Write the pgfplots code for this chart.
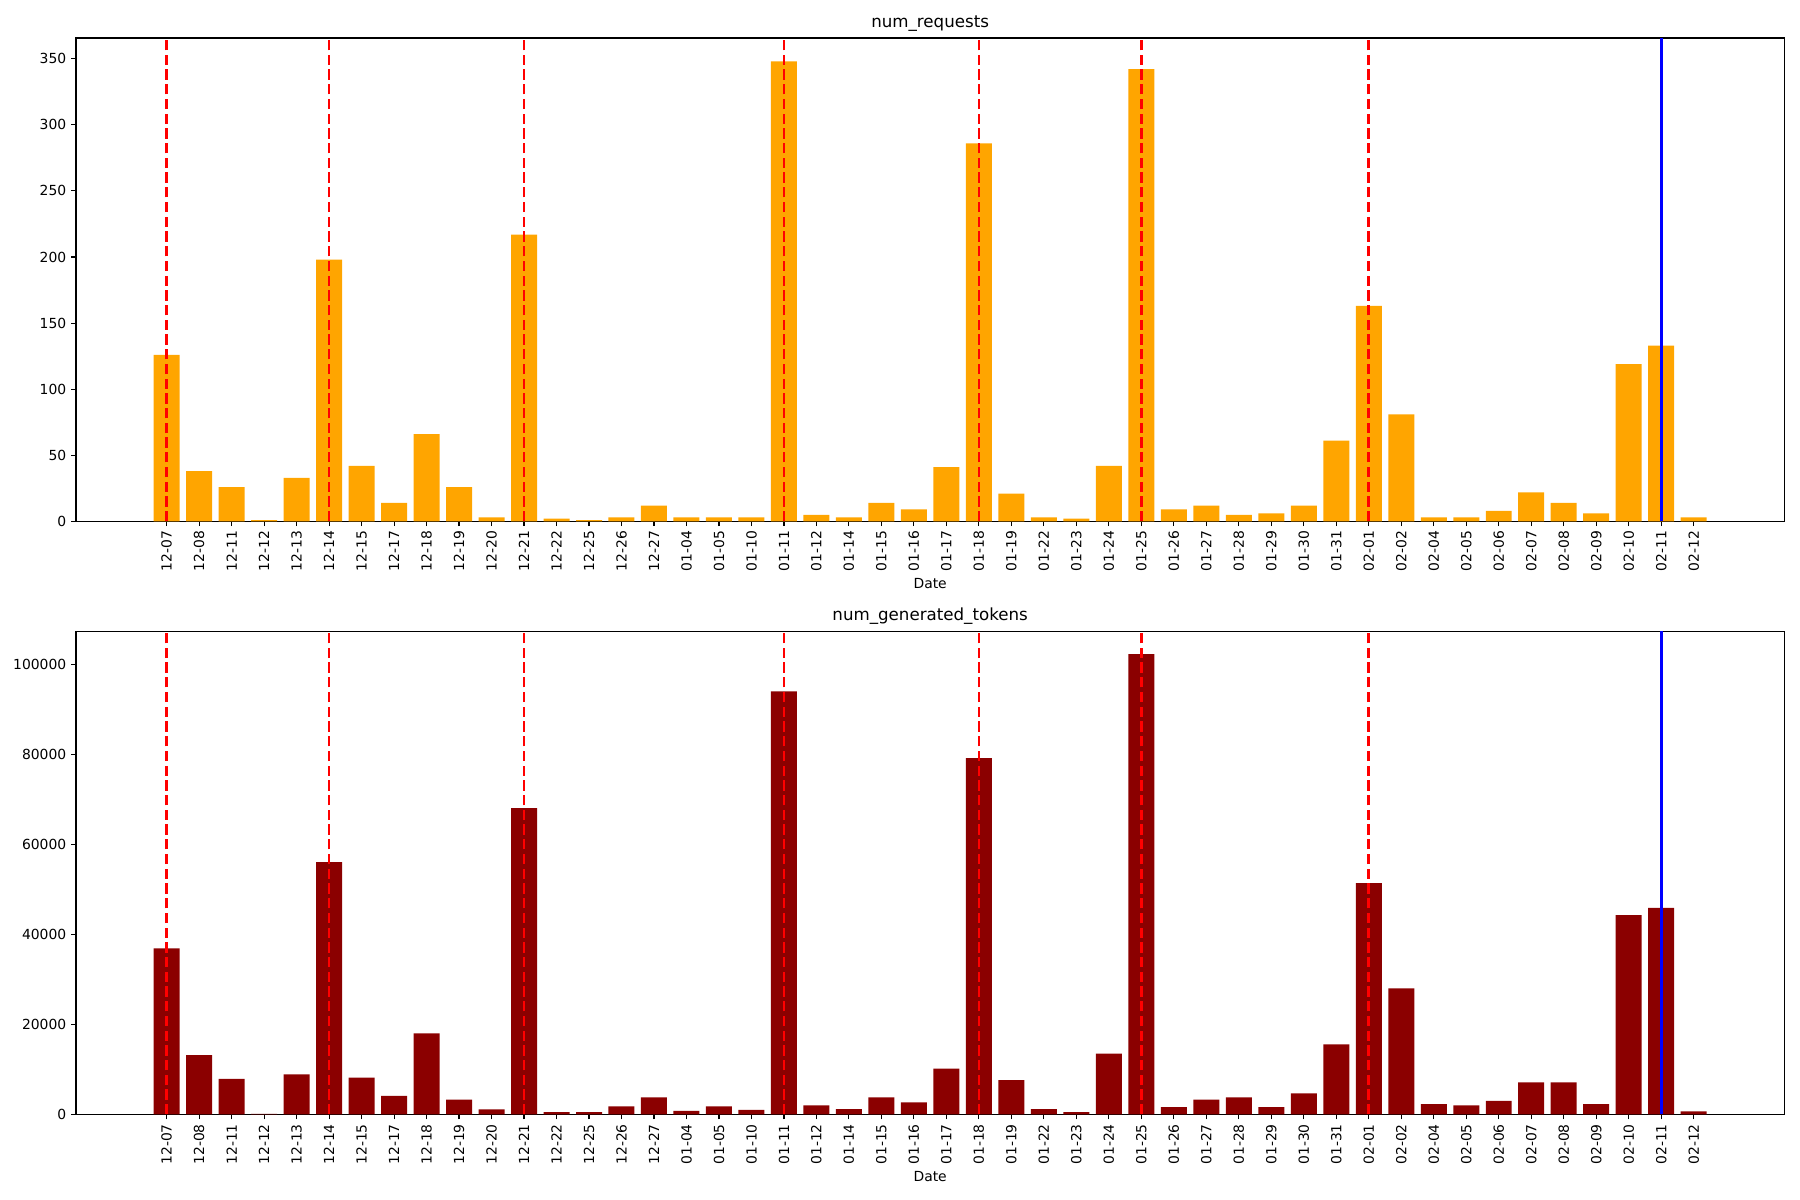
\documentclass[border=0pt]{standalone}
\usepackage{pgfplots}
\usepackage{pgfplotstable}
\pgfplotsset{compat=1.18}
\usepackage{fontspec}
\setmainfont{DejaVu Sans}

\pgfplotstableread{
x req tok
0 126 36900
1 38 13200
2 26 7900
3 1 150
4 33 8900
5 198 56100
6 42 8200
7 14 4100
8 66 18000
9 26 3300
10 3 1100
11 217 68100
12 2 500
13 1 500
14 3 1800
15 12 3800
16 3 800
17 3 1800
18 3 1000
19 348 94000
20 5 2000
21 3 1200
22 14 3800
23 9 2700
24 41 10200
25 286 79200
26 21 7600
27 3 1200
28 2 500
29 42 13500
30 342 102300
31 9 1600
32 12 3300
33 5 3800
34 6 1600
35 12 4700
36 61 15600
37 163 51400
38 81 28000
39 3 2300
40 3 2000
41 8 3000
42 22 7100
43 14 7100
44 6 2300
45 119 44300
46 133 45900
47 3 700
}\datatable

\pgfplotsset{
  myaxis/.style={
    width=1230pt, height=348pt, scale only axis,
    xmin=-2.79, xmax=49.79,
    ymin=0,
    xtick={0,...,47},
    xticklabels={12-07,12-08,12-11,12-12,12-13,12-14,12-15,12-17,12-18,12-19,12-20,12-21,12-22,12-25,12-26,12-27,01-04,01-05,01-10,01-11,01-12,01-14,01-15,01-16,01-17,01-18,01-19,01-22,01-23,01-24,01-25,01-26,01-27,01-28,01-29,01-30,01-31,02-01,02-02,02-04,02-05,02-06,02-07,02-08,02-09,02-10,02-11,02-12},
    x tick label style={rotate=90, anchor=east, font=\fontsize{10}{12}\selectfont},
    y tick label style={font=\fontsize{10}{12}\selectfont, /pgf/number format/fixed, /pgf/number format/precision=0, /pgf/number format/1000 sep={}, /pgf/number format/assume math mode=true},
    tick align=outside, tick pos=left,
    major tick length=3.5pt,
    tick style={black, line width=0.8pt},
    axis line style={line width=0.8pt},
    xlabel={Date},
    xlabel style={font=\fontsize{10}{12}\selectfont, yshift=2pt},
    title style={font=\fontsize{12}{14}\selectfont, yshift=-5pt},
    scaled y ticks=false,
    ybar, bar width=0.8, bar shift=0pt,
    clip=true,
  },
  vline/.style={red, line width=2pt, dash pattern=on 7.4pt off 3.2pt, forget plot, sharp plot},
  bline/.style={blue, line width=2pt, forget plot, sharp plot},
}

\begin{document}
\begin{tikzpicture}
\begin{axis}[myaxis, ymax=365.6, ytick={0,50,...,350}, title={num\_requests}]
\addplot[fill={rgb,255:red,255;green,165;blue,0}, draw=none] table[x=x, y=req] {\datatable};
\addplot[vline] coordinates {(0,0) (0,400)};
\addplot[vline] coordinates {(5,0) (5,400)};
\addplot[vline] coordinates {(11,0) (11,400)};
\addplot[vline] coordinates {(19,0) (19,400)};
\addplot[vline] coordinates {(25,0) (25,400)};
\addplot[vline] coordinates {(30,0) (30,400)};
\addplot[vline] coordinates {(37,0) (37,400)};
\addplot[bline] coordinates {(46,0) (46,400)};
\end{axis}
\begin{axis}[myaxis, at={(0,-427pt)}, ymax=107415, ytick={0,20000,40000,60000,80000,100000}, yticklabels={0,20000,40000,60000,80000,100000}, title={num\_generated\_tokens}]
\addplot[fill={rgb,255:red,139;green,0;blue,0}, draw=none] table[x=x, y=tok] {\datatable};
\addplot[vline] coordinates {(0,0) (0,120000)};
\addplot[vline] coordinates {(5,0) (5,120000)};
\addplot[vline] coordinates {(11,0) (11,120000)};
\addplot[vline] coordinates {(19,0) (19,120000)};
\addplot[vline] coordinates {(25,0) (25,120000)};
\addplot[vline] coordinates {(30,0) (30,120000)};
\addplot[vline] coordinates {(37,0) (37,120000)};
\addplot[bline] coordinates {(46,0) (46,120000)};
\end{axis}
\pgfresetboundingbox
\useasboundingbox (-54.7pt,-488.2pt) rectangle (1241.3pt,375.4pt);
\end{tikzpicture}
\end{document}
